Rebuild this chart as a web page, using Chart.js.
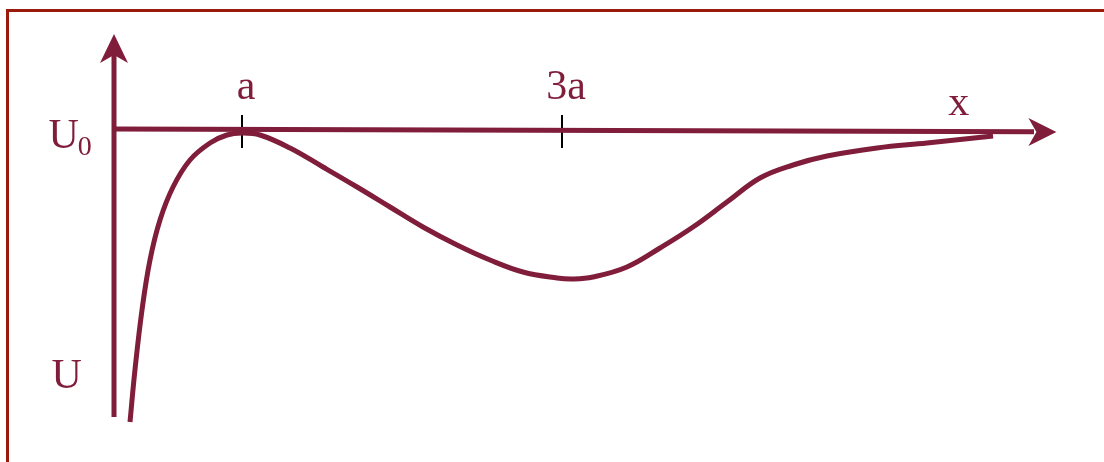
<!DOCTYPE html>
<html>
<head>
<meta charset="utf-8">
<script src="https://cdn.jsdelivr.net/npm/chart.js@4.4.0/dist/chart.umd.min.js"></script>
<style>
  html, body { margin: 0; padding: 0; background: #fff; }
  #wrap { position: relative; width: 1104px; height: 462px; overflow: hidden; }
  #frame {
    position: absolute; left: 6px; top: 9px; width: 1200px; height: 600px;
    border-left: 3px solid #9a1b0c; border-top: 3px solid #9a1b0c;
  }
  canvas { position: absolute; left: 0; top: 0; }
</style>
</head>
<body>
<div id="wrap">
  <div id="frame"></div>
  <canvas id="potChart" width="1104" height="462"></canvas>
</div>
<script>
// đường cong thế năng U(x), x tính theo đơn vị a
const curveX = [0.30, 0.331, 0.375, 0.425, 0.4875, 0.569, 0.675, 0.80, 0.906, 1.0, 1.1125,
  1.30, 1.506, 1.719, 1.925, 2.131, 2.344, 2.55, 2.756, 2.969, 3.069, 3.194, 3.406,
  3.6125, 3.819, 4.031, 4.2375, 4.444, 4.656, 4.969, 5.281, 5.694];
const curveU = [-2.92, -2.40, -1.80, -1.30, -0.90, -0.57, -0.30, -0.13, -0.05, -0.03, -0.05,
  -0.18, -0.37, -0.57, -0.77, -0.97, -1.15, -1.30, -1.42, -1.48, -1.49, -1.47, -1.37,
  -1.18, -0.97, -0.72, -0.48, -0.35, -0.26, -0.18, -0.13, -0.06];

// trục toạ độ
const yAxisX = [0.2, 0.2];
const yAxisU = [-2.87, 0.80];
const xAxisX = [0.2, 5.95];
const xAxisU = [0.01, -0.018];

// vạch chia và nhãn
const tickX = [1, 3];
const tickLabels = ['a', '3a'];
const tickU = [0.15, -0.18];

const maroon = '#7f1d3b';

function toPoints(xs, ys) {
  return xs.map((x, i) => ({ x: x, y: ys[i] }));
}

const datasets = [
  { data: toPoints(curveX, curveU), tension: 0.4 },
  { data: toPoints(yAxisX, yAxisU) },
  { data: toPoints(xAxisX, xAxisU) }
].map(d => Object.assign({
  showLine: true,
  borderColor: maroon,
  borderWidth: 5,
  pointRadius: 0,
  borderCapStyle: 'butt',
  fill: false
}, d));

tickX.forEach(t => {
  datasets.push({
    data: toPoints([t, t], tickU),
    showLine: true,
    borderColor: '#000',
    borderWidth: 2,
    pointRadius: 0
  });
});

// mũi tên + chữ
const decorPlugin = {
  id: 'decor',
  afterDatasetsDraw(chart) {
    const c = chart.ctx;
    const xs = chart.scales.x, ys = chart.scales.y;
    c.save();
    c.fillStyle = maroon;

    // mũi tên trục U
    let tx = xs.getPixelForValue(0.2), ty = ys.getPixelForValue(0.96);
    c.beginPath();
    c.moveTo(tx, ty);
    c.lineTo(tx + 14, ty + 29);
    c.lineTo(tx, ty + 21);
    c.lineTo(tx - 14, ty + 29);
    c.closePath();
    c.fill();

    // mũi tên trục x
    tx = xs.getPixelForValue(6.09); ty = ys.getPixelForValue(-0.02);
    c.beginPath();
    c.moveTo(tx, ty);
    c.lineTo(tx - 28, ty + 14);
    c.lineTo(tx - 20, ty);
    c.lineTo(tx - 28, ty - 14);
    c.closePath();
    c.fill();

    c.font = '42px "Liberation Serif", "DejaVu Serif", serif';
    c.textBaseline = 'alphabetic';
    c.textAlign = 'center';
    tickX.forEach((t, i) => {
      c.fillText(tickLabels[i], xs.getPixelForValue(t) + 4, ys.getPixelForValue(0.31));
    });
    c.fillText('x', xs.getPixelForValue(5.48), ys.getPixelForValue(0.15));

    c.textAlign = 'left';
    c.fillText('U', xs.getPixelForValue(-0.19), ys.getPixelForValue(-2.58));
    const ux = xs.getPixelForValue(-0.21), uy = ys.getPixelForValue(-0.18);
    c.fillText('U', ux, uy);
    const w = c.measureText('U').width;
    c.font = '28px "Liberation Serif", "DejaVu Serif", serif';
    c.fillText('0', ux + w - 1, uy + 7);
    c.restore();
  }
};

const ctx = document.getElementById('potChart').getContext('2d');
new Chart(ctx, {
  type: 'scatter',
  data: { datasets: datasets },
  options: {
    responsive: false,
    animation: false,
    devicePixelRatio: 1,
    layout: { padding: 0 },
    plugins: { legend: { display: false }, tooltip: { enabled: false } },
    scales: {
      x: { type: 'linear', min: -0.5125, max: 6.3875, display: false },
      y: { type: 'linear', min: -3.32, max: 1.30, display: false }
    }
  },
  plugins: [decorPlugin]
});
</script>
</body>
</html>
